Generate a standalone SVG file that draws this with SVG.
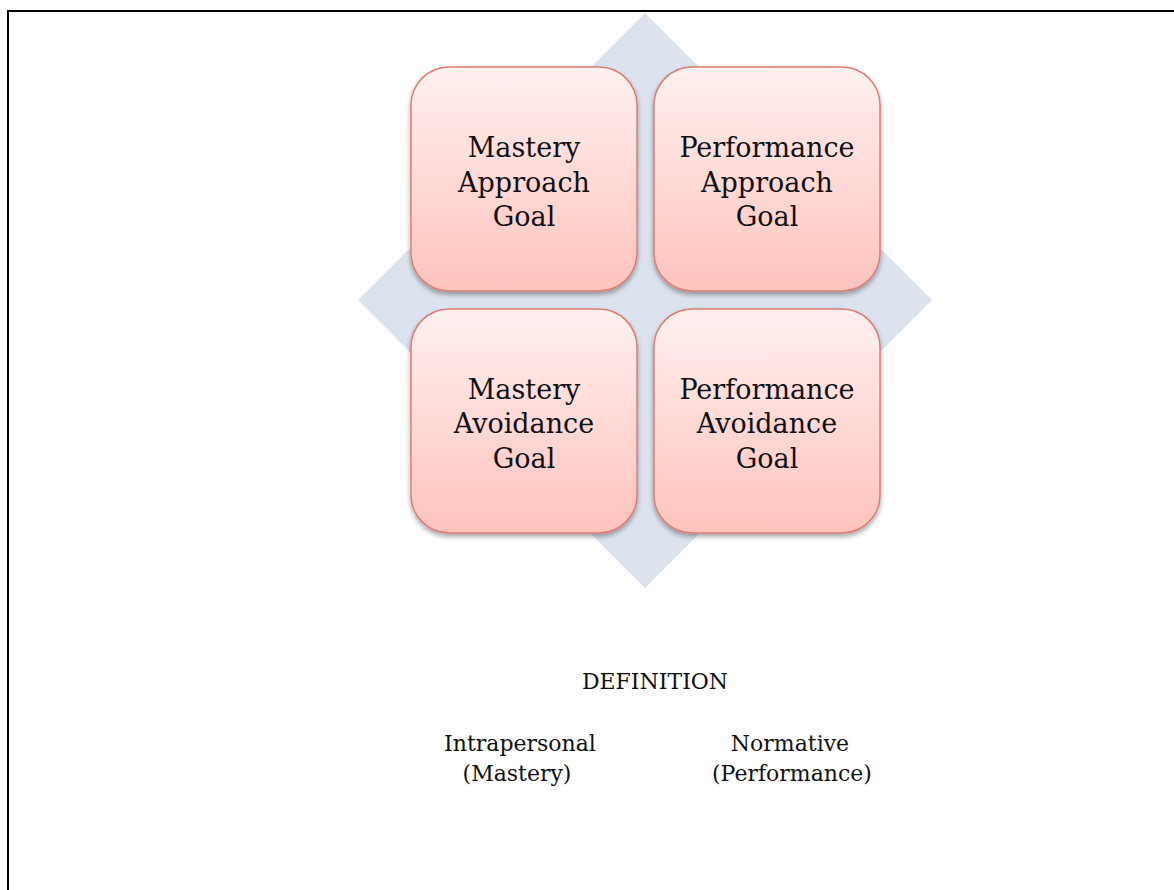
<svg xmlns="http://www.w3.org/2000/svg" width="1174" height="890" viewBox="0 0 1174 890">
<defs>
<linearGradient id="boxGrad" x1="0" y1="0" x2="0" y2="1">
<stop offset="0" stop-color="#fff0f0"/>
<stop offset="1" stop-color="#ffc3bd"/>
</linearGradient>
<filter id="shadow" x="-10%" y="-10%" width="120%" height="125%">
<feGaussianBlur in="SourceAlpha" stdDeviation="2.5"/>
<feOffset dx="0" dy="3" result="b"/>
<feComponentTransfer><feFuncA type="linear" slope="0.35"/></feComponentTransfer>
<feMerge><feMergeNode/><feMergeNode in="SourceGraphic"/></feMerge>
</filter>
</defs>
<style>
.box{fill:url(#boxGrad);stroke:#dd7d76;stroke-width:1.5;filter:url(#shadow)}
.lbl{font-family:"DejaVu Serif","Liberation Serif",serif;font-size:27px;fill:#111;text-anchor:middle}
.txt{font-family:"DejaVu Serif","Liberation Serif",serif;font-size:22px;fill:#111;text-anchor:middle}
</style>
<rect width="1174" height="890" fill="#fff"/>
<path d="M8,892 V11 H1176" fill="none" stroke="#000" stroke-width="2"/>
<polygon id="diamond" points="645,13 932,300 645,588 358,300" fill="#dce3ee"/>
<g id="connectors"></g>
<g id="mastery-approach">
<rect class="box" x="411" y="67" width="226" height="224" rx="38"/>
<text class="lbl" x="524" y="157">Mastery</text>
<text class="lbl" x="524" y="192">Approach</text>
<text class="lbl" x="524" y="226">Goal</text>
</g>
<g id="performance-approach">
<rect class="box" x="654" y="67" width="226" height="224" rx="38"/>
<text class="lbl" x="767" y="157">Performance</text>
<text class="lbl" x="767" y="192">Approach</text>
<text class="lbl" x="767" y="226">Goal</text>
</g>
<g id="mastery-avoidance">
<rect class="box" x="411" y="309" width="226" height="224" rx="38"/>
<text class="lbl" x="524" y="399">Mastery</text>
<text class="lbl" x="524" y="433">Avoidance</text>
<text class="lbl" x="524" y="468">Goal</text>
</g>
<g id="performance-avoidance">
<rect class="box" x="654" y="309" width="226" height="224" rx="38"/>
<text class="lbl" x="767" y="399">Performance</text>
<text class="lbl" x="767" y="433">Avoidance</text>
<text class="lbl" x="767" y="468">Goal</text>
</g>
<g id="labels">
<text class="txt" x="655" y="689">DEFINITION</text>
<text class="txt" x="520" y="751">Intrapersonal</text>
<text class="txt" x="517" y="781">(Mastery)</text>
<text class="txt" x="790" y="751">Normative</text>
<text class="txt" x="792" y="781">(Performance)</text>
</g>
</svg>
